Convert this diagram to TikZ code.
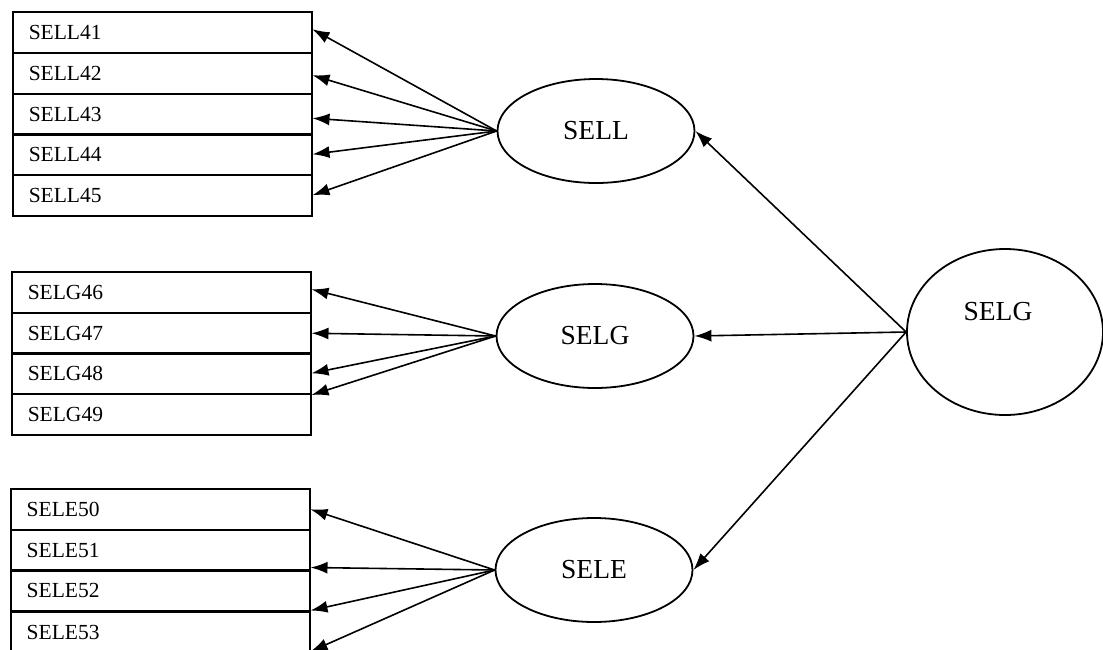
\documentclass[tikz,border=0pt]{standalone}
\usepackage{fontspec}
\setmainfont{Liberation Serif}
\usetikzlibrary{shapes.geometric,arrows.meta}
\begin{document}
\begin{tikzpicture}[x=1pt,y=-1pt,
  itembox/.style={draw, line width=1.5pt, rectangle, anchor=north west,
    minimum width=299pt, minimum height=41pt, text width=267pt, align=left,
    inner xsep=16pt, inner ysep=0pt, font=\fontsize{21.5}{25}\selectfont},
  factor/.style={draw, line width=1.8pt, ellipse, minimum width=197pt,
    minimum height=104pt, inner sep=0pt, font=\fontsize{27.5}{32}\selectfont},
  load/.style={line width=1.6pt, -{Latex[length=17pt,width=12pt]}},
]
\useasboundingbox (0,0) rectangle (1103,649);
\clip (0,0) rectangle (1103,649);

% indicator boxes: SELL block
\node[itembox] (b41) at (12,11)  {SELL41};
\node[itembox] (b42) at (12,52)  {SELL42};
\node[itembox] (b43) at (12,93)  {SELL43};
\node[itembox] (b44) at (12,133) {SELL44};
\node[itembox] (b45) at (12,174) {SELL45};

% indicator boxes: SELG block
\node[itembox, minimum width=298pt] (b46) at (11,271) {SELG46};
\node[itembox, minimum width=298pt] (b47) at (11,312) {SELG47};
\node[itembox, minimum width=298pt] (b48) at (11,352) {SELG48};
\node[itembox, minimum width=298pt] (b49) at (11,393) {SELG49};

% indicator boxes: SELE block
\node[itembox, minimum width=297pt] (b50) at (10,488) {SELE50};
\node[itembox, minimum width=297pt] (b51) at (10,529) {SELE51};
\node[itembox, minimum width=297pt] (b52) at (10,569) {SELE52};
\node[itembox, minimum width=297pt] (b53) at (10,611) {SELE53};

% first-order factors
\node[factor] (fl) at (596,131) {SELL};
\node[factor] (fg) at (595,336) {SELG};
\node[factor] (fe) at (594,570) {SELE};

% second-order factor
\node[draw, line width=1.8pt, ellipse, minimum width=196pt, minimum height=166pt,
  inner sep=0pt] (top) at (1005,332) {};
\node[font=\fontsize{27.5}{32}\selectfont] (toptxt) at (998,312) {SELG};

% loadings of the second-order factor
\draw[load] (top.west) -- (fl.east);
\draw[load] (top.west) -- (fg.east);
\draw[load] (top.west) -- (fe.east);

% loadings of SELL
\draw[load] (fl.west) -- ([yshift=3pt]b41.east);
\draw[load] (fl.west) -- ([yshift=-2pt]b42.east);
\draw[load] (fl.west) -- ([yshift=-4pt]b43.east);
\draw[load] (fl.west) -- (b44.east);
\draw[load] (fl.west) -- (b45.east);

% loadings of SELG
\draw[load] (fg.west) -- ([yshift=3pt]b46.east);
\draw[load] (fg.west) -- (b47.east);
\draw[load] (fg.west) -- (b48.east);
\draw[load] (fg.west) -- ([yshift=-2pt]b49.north east);

% loadings of SELE
\draw[load] (fe.west) -- (b50.east);
\draw[load] (fe.west) -- ([yshift=4pt]b51.south east);
\draw[load] (fe.west) -- ([yshift=1pt]b52.south east);
\draw[load] (fe.west) -- ([yshift=2pt]b53.south east);
\end{tikzpicture}
\end{document}
